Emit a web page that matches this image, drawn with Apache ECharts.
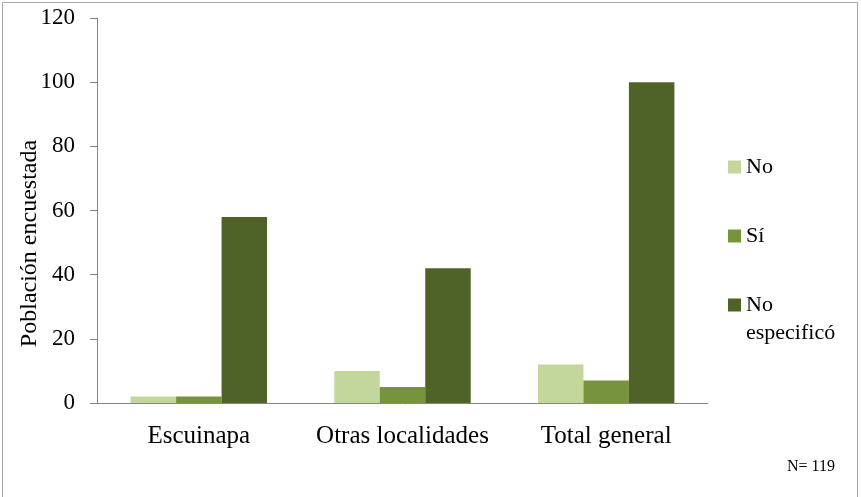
<!DOCTYPE html>
<html><head><meta charset="utf-8">
<script src="https://cdn.jsdelivr.net/npm/echarts@6/dist/echarts.min.js"></script>
<style>html,body{margin:0;padding:0;background:#fff}#c{width:861px;height:497px}</style>
</head><body><div id="c"></div>
<script>
const categories = ['Escuinapa', 'Otras localidades', 'Total general'];
const seriesNames = ['No', 'Sí', 'No especificó'];
const noValues = [2, 10, 12];
const siValues = [2, 5, 7];
const noEspValues = [58, 42, 100];
const yTicks = [0, 20, 40, 60, 80, 100, 120];
const colors = ['#c3d69b', '#77933c', '#4f6228'];
const font = '"Liberation Serif", "Times New Roman", serif';

const chart = echarts.init(document.getElementById('c'));
const values = [noValues, siValues, noEspValues];
const legendText = { fontFamily: font, fontSize: 22, color: '#000', lineHeight: 28 };
chart.setOption({
  animation: false,
  textStyle: { fontFamily: font, color: '#000' },
  grid: { left: 97, right: 153, top: 18, bottom: 94 },
  graphic: [
    { type: 'rect', shape: { x: 2.5, y: 2.5, width: 855, height: 510 }, style: { fill: 'none', stroke: '#a6a6a6', lineWidth: 1 }, silent: true },
    { type: 'text', left: 787, top: 459, style: { text: 'N= 119', font: '16px ' + font, fill: '#000' } }
  ],
  legend: [
    { data: [seriesNames[0]], left: 728, top: 153, padding: 0, orient: 'vertical', icon: 'rect', itemWidth: 13, itemHeight: 13, textStyle: legendText },
    { data: [seriesNames[1]], left: 728, top: 222, padding: 0, orient: 'vertical', icon: 'rect', itemWidth: 13, itemHeight: 13, textStyle: legendText },
    { data: [seriesNames[2]], left: 728, top: 263, padding: 0, orient: 'vertical', icon: 'rect', itemWidth: 13, itemHeight: 13,
      formatter: () => '\nNo\nespecificó', textStyle: legendText }
  ],
  xAxis: {
    type: 'category', data: categories,
    axisLine: { lineStyle: { color: '#868686', width: 1 } },
    axisTick: { show: false },
    axisLabel: { fontFamily: font, fontSize: 25, color: '#000', margin: 21, interval: 0 }
  },
  yAxis: {
    type: 'value', min: 0, max: 120, interval: 20,
    name: 'Población encuestada', nameLocation: 'middle', nameGap: 55, nameRotate: 90,
    nameMoveOverlap: false,
    nameTextStyle: { fontFamily: font, fontSize: 24, color: '#000', padding: [0, 66, 0, 0] },
    axisLine: { show: true, lineStyle: { color: '#868686', width: 1 } },
    axisTick: { show: true, length: 7, lineStyle: { color: '#868686' } },
    splitLine: { show: false },
    axisLabel: { fontFamily: font, fontSize: 23, color: '#000', margin: 22,
      formatter: v => yTicks.includes(v) ? String(v) : '' }
  },
  series: seriesNames.map((n, i) => ({
    name: n, type: 'bar', data: values[i], barGap: '0%', barCategoryGap: '33%',
    itemStyle: { color: colors[i] }
  }))
});
</script></body></html>
